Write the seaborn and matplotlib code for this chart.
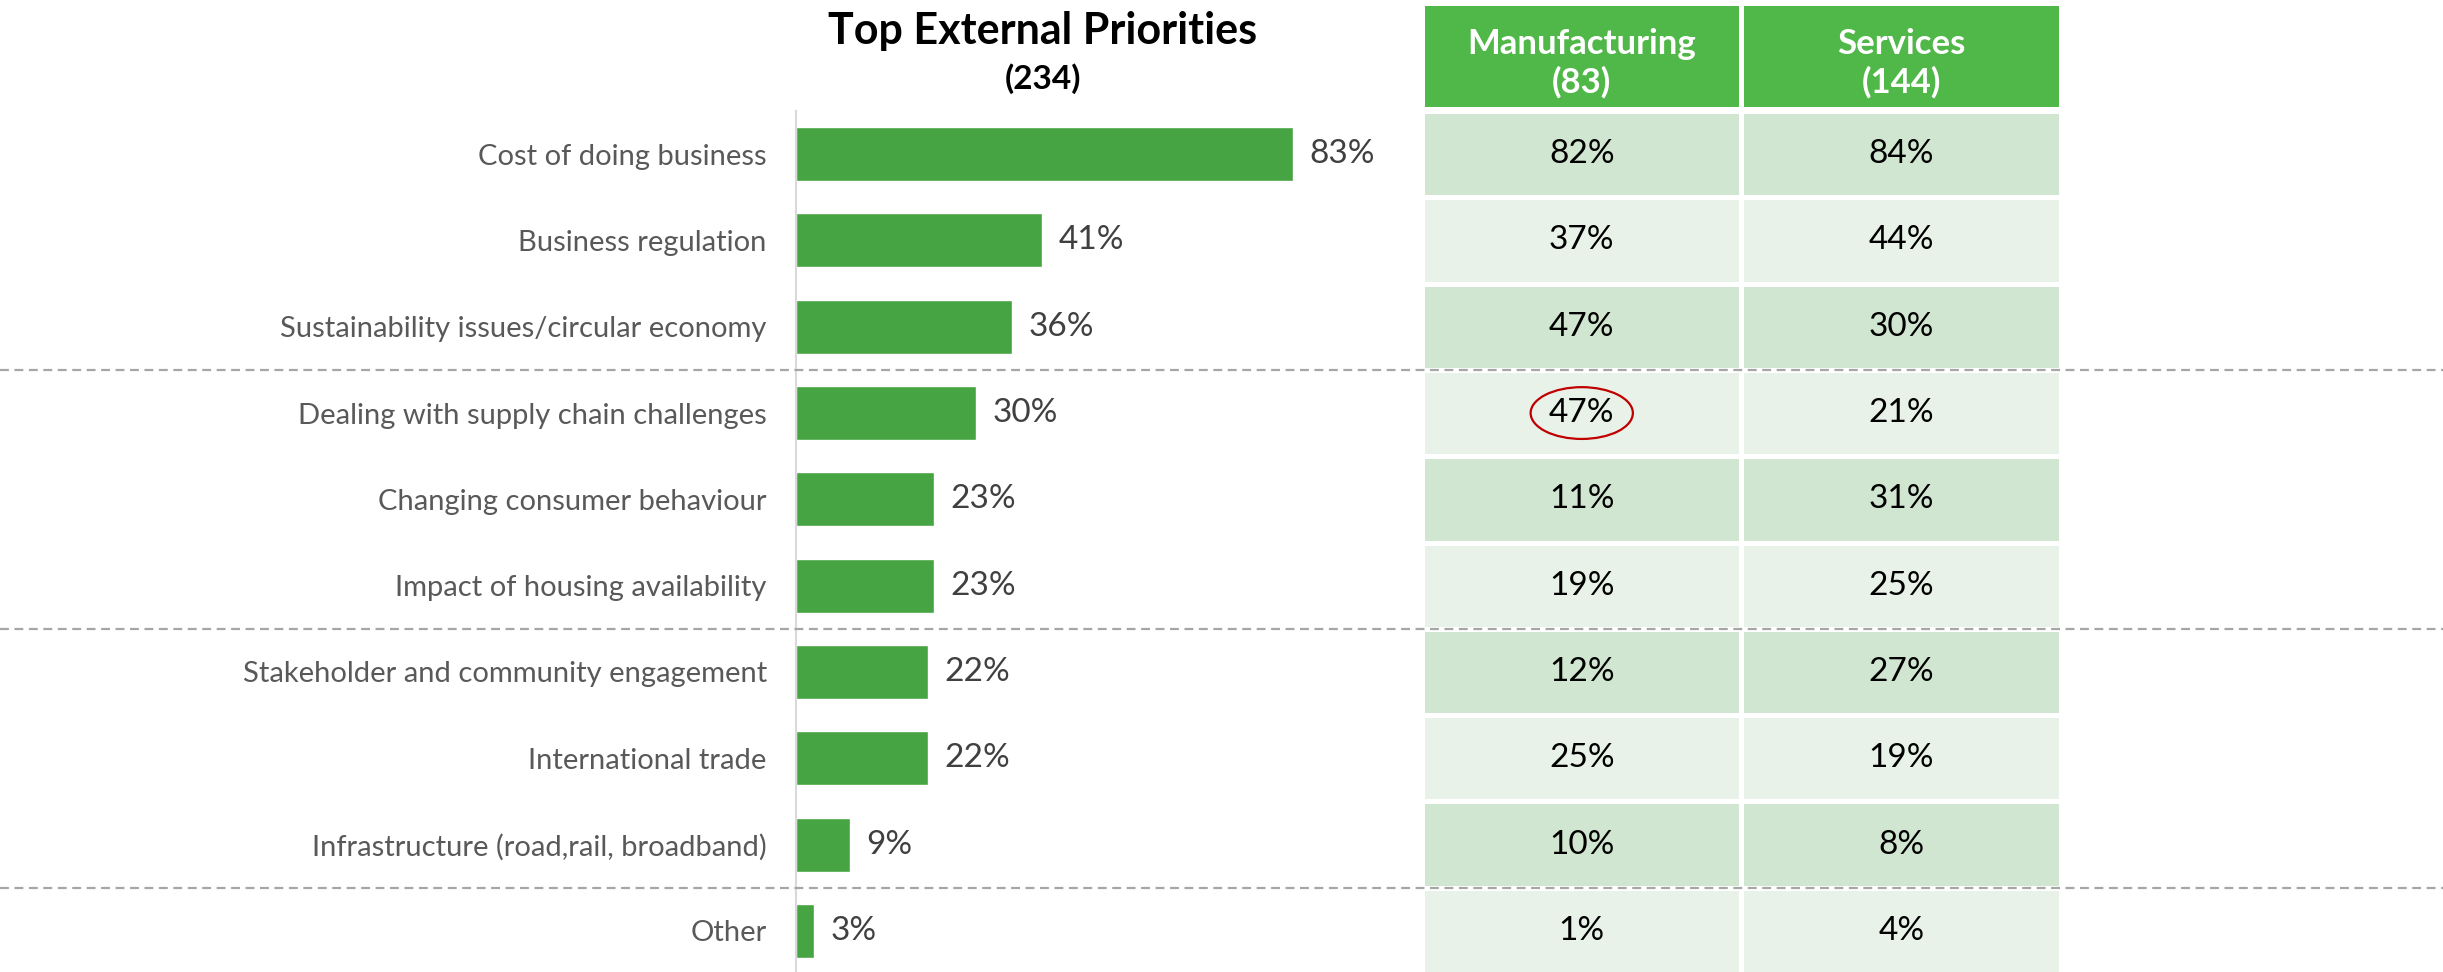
import matplotlib
matplotlib.use("Agg")
import matplotlib.pyplot as plt
import matplotlib.transforms as mtransforms
from matplotlib.colors import ListedColormap
from matplotlib.patches import Ellipse
from matplotlib.lines import Line2D
import seaborn as sns
import pandas as pd
import numpy as np

# data
categories = [
    "Cost of doing business",
    "Business regulation",
    "Sustainability issues/circular economy",
    "Dealing with supply chain challenges",
    "Changing consumer behaviour",
    "Impact of housing availability",
    "Stakeholder and community engagement",
    "International trade",
    "Infrastructure (road,rail, broadband)",
    "Other",
]
overall = [83, 41, 36, 30, 23, 23, 22, 22, 9, 3]
manufacturing = [82, 37, 47, 47, 11, 19, 12, 25, 10, 1]
services = [84, 44, 30, 21, 31, 25, 27, 19, 8, 4]
column_headers = ["Manufacturing\n(83)", "Services\n(144)"]
title = "Top External Priorities"
subtitle = "(234)"
group_breaks = [3, 6, 9]          # dashed line before these rows
highlight = (3, 0)                # row, column circled in red

df = pd.DataFrame({"Priority": categories, "Overall": overall})

sns.set_theme(style="white")
plt.rcParams["font.family"] = ["Lato", "DejaVu Sans"]

BAR = "#47A443"
HEAD = "#50B848"
DARK_ROW = "#D1E6D0"
LIGHT_ROW = "#E8F2E8"

W, H = 2443, 972
fig = plt.figure(figsize=(W / 100, H / 100), dpi=100)


def px_axes(x0, y0, x1, y1):
    return fig.add_axes([x0 / W, 1 - y1 / H, (x1 - x0) / W, (y1 - y0) / H])


top, row_h = 111, 86.3
bottom = top + row_h * len(categories)

# bar chart
ax = px_axes(796, top, 1422, bottom)
sns.barplot(data=df, x="Overall", y="Priority", color=BAR, saturation=1,
            width=0.625, ax=ax, orient="h")
ax.set_xlim(0, 104.5)
ax.set_ylim(len(categories) - 0.5, -0.5)
ax.set_xlabel("")
ax.set_ylabel("")
ax.set_xticks([])
ax.tick_params(axis="y", length=0, pad=21, labelsize=21, labelcolor="#595959")
for s in ["top", "right", "bottom"]:
    ax.spines[s].set_visible(False)
ax.spines["left"].set_color("#D9D9D9")
ax.spines["left"].set_linewidth(1.5)
ax.bar_label(ax.containers[0], labels=[f"{v}%" for v in overall],
             padding=12, fontsize=24, color="#404040")

# table body
tax = px_axes(1422, top, 2061, bottom)
parity = np.array([[i % 2, i % 2] for i in range(len(categories))])
annot = np.array([[f"{m}%", f"{s}%"] for m, s in zip(manufacturing, services)])
sns.heatmap(parity, annot=annot, fmt="", cmap=ListedColormap([DARK_ROW, LIGHT_ROW]),
            cbar=False, linewidths=2.5, linecolor="white", ax=tax,
            annot_kws=dict(fontsize=24, color="black"))
tax.set_xticks([])
tax.set_yticks([])
r, c = highlight
tax.add_patch(Ellipse((c + 0.5, r + 0.5), 0.32, 0.6, fill=False,
                      ec="#C00000", lw=1.6, zorder=5))

# table header
hax = px_axes(1422, 3, 2061, 109)
sns.heatmap(np.zeros((1, 2)), annot=np.array([column_headers]), fmt="",
            cmap=ListedColormap([HEAD]), cbar=False, linewidths=2.5,
            linecolor="white", ax=hax,
            annot_kws=dict(fontsize=25, color="white", weight="bold",
                           linespacing=1.25))
hax.set_xticks([])
hax.set_yticks([])
for t in hax.texts:
    t.set_y(t.get_position()[1] + 0.07)  # text sits a little low in the cell

# dashed group separators across the whole figure, drawn over the table
trans = mtransforms.blended_transform_factory(fig.transFigure, ax.transData)
for b in group_breaks:
    fig.add_artist(Line2D([0, 1], [b - 0.5, b - 0.5], transform=trans,
                          color="#A6A6A6", lw=1.6, ls=(0, (4, 2.5)), zorder=10))

fig.text(1043 / W, 1 - 31 / H, title, ha="center", va="center",
         fontsize=31, weight="bold", color="black")
fig.text(1043 / W, 1 - 79 / H, subtitle, ha="center", va="center",
         fontsize=24, weight="bold", color="black")

fig.savefig("out.png", dpi=100, facecolor="white")
